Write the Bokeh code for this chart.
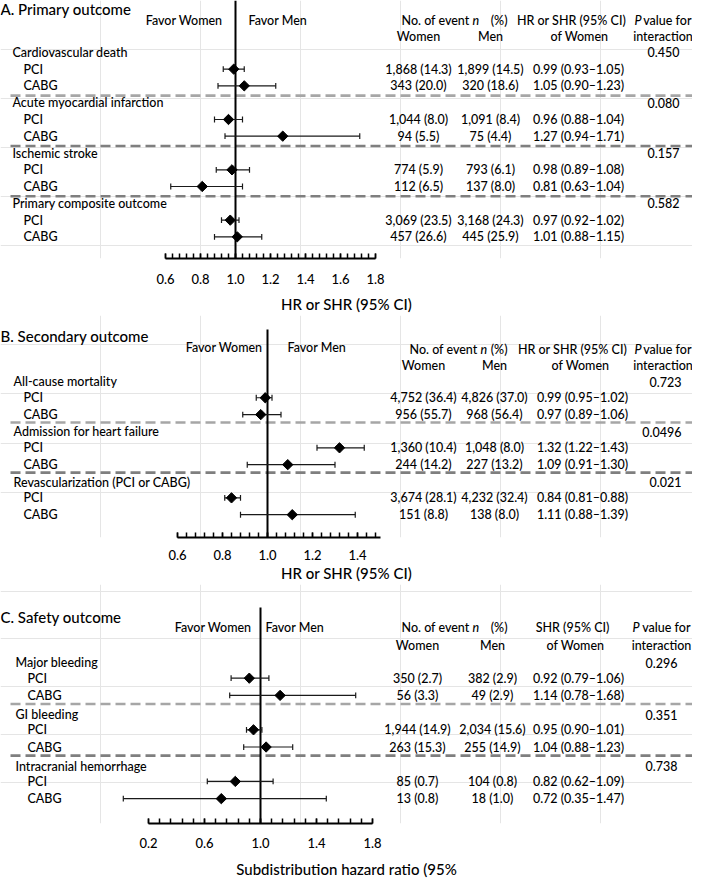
import numpy as np
from bokeh.plotting import figure
from bokeh.models import Range1d, LinearAxis, FixedTicker, PrintfTickFormatter
from bokeh.layouts import column
from bokeh.embed import file_html
from bokeh.resources import INLINE
from bokeh.core.properties import value

# ---------------- data ----------------
NULL_HR = 1.0
SUBGROUPS = ["PCI", "CABG"]

A_outcomes = ["Cardiovascular death", "Acute myocardial infarction", "Ischemic stroke", "Primary composite outcome"]
A_p = ["0.450", "0.080", "0.157", "0.582"]
A_hr = [0.99, 1.05, 0.96, 1.27, 0.98, 0.81, 0.97, 1.01]
A_lo = [0.93, 0.90, 0.88, 0.94, 0.89, 0.63, 0.92, 0.88]
A_hi = [1.05, 1.23, 1.04, 1.71, 1.08, 1.04, 1.02, 1.15]
A_women = ["1,868 (14.3)", "343 (20.0)", "1,044 (8.0)", "94 (5.5)", "774 (5.9)", "112 (6.5)", "3,069 (23.5)", "457 (26.6)"]
A_men = ["1,899 (14.5)", "320 (18.6)", "1,091 (8.4)", "75 (4.4)", "793 (6.1)", "137 (8.0)", "3,168 (24.3)", "445 (25.9)"]
A_ticks = [0.6, 0.8, 1.0, 1.2, 1.4, 1.6, 1.8]

B_outcomes = ["All-cause mortality", "Admission for heart failure", "Revascularization (PCI or CABG)"]
B_p = ["0.723", "0.0496", "0.021"]
B_hr = [0.99, 0.97, 1.32, 1.09, 0.84, 1.11]
B_lo = [0.95, 0.89, 1.22, 0.91, 0.81, 0.88]
B_hi = [1.02, 1.06, 1.43, 1.30, 0.88, 1.39]
B_women = ["4,752 (36.4)", "956 (55.7)", "1,360 (10.4)", "244 (14.2)", "3,674 (28.1)", "151 (8.8)"]
B_men = ["4,826 (37.0)", "968 (56.4)", "1,048 (8.0)", "227 (13.2)", "4,232 (32.4)", "138 (8.0)"]
B_ticks = [0.6, 0.8, 1.0, 1.2, 1.4]

C_outcomes = ["Major bleeding", "GI bleeding", "Intracranial hemorrhage"]
C_p = ["0.296", "0.351", "0.738"]
C_hr = [0.92, 1.14, 0.95, 1.04, 0.82, 0.72]
C_lo = [0.79, 0.78, 0.90, 0.88, 0.62, 0.35]
C_lo_drawn = [0.79, 0.78, 0.90, 0.88, 0.62, 0.02]   # lower whisker end as drawn in the picture
C_hi = [1.06, 1.68, 1.01, 1.23, 1.09, 1.47]
C_women = ["350 (2.7)", "56 (3.3)", "1,944 (14.9)", "263 (15.3)", "85 (0.7)", "13 (0.8)"]
C_men = ["382 (2.9)", "49 (2.9)", "2,034 (15.6)", "255 (14.9)", "104 (0.8)", "18 (1.0)"]
C_ticks = [0.2, 0.6, 1.0, 1.4, 1.8]

# ---------------- layout / style ----------------
FONT = "Lato Medium, Lato"
PAGE_W = 692
BODY = "12.5px"
BIG = "15px"


def ci_text(h, l, u):
    return [f"{a:.2f} ({b:.2f}\u2013{c:.2f})" for a, b, c in zip(h, l, u)]


def txt(p, xs, ys, ts, align="left", size=BODY, style="normal"):
    p.text(x=xs, y=ys, text=ts, text_align=align, text_baseline="middle",
           text_font=value(FONT), text_font_size=size, text_font_style=style,
           text_color="black")


def panel(cfg, outcomes, pvals, hr, lo, hi, lo_draw, women, men):
    top, axis_y = cfg["frame"]
    p = figure(width=PAGE_W, height=cfg["height"], x_range=Range1d(0, PAGE_W),
               y_range=Range1d(axis_y, top), output_backend="svg", toolbar_location=None,
               x_axis_location=None, y_axis_location=None,
               min_border_left=0, min_border_right=0, min_border_top=0,
               min_border_bottom=cfg["border"])
    p.outline_line_color = None
    p.background_fill_color = "white"
    nx, ppu = cfg["null_px"], cfg["ppu"]
    p.extra_x_ranges = {"hr": Range1d(NULL_HR - nx / ppu, NULL_HR + (PAGE_W - nx) / ppu)}

    # rows
    n = len(outcomes)
    gy = [cfg["y0"] + i * cfg["step"] for i in range(n)]
    ry, labels = [], []
    for g in gy:
        ry += [g + cfg["r1"], g + cfg["r2"]]
        labels += SUBGROUPS
    dy = [g + cfg["dash"] for g in gy[:-1]]
    dcol = ["#a6a6a6"] + ["#7f7f7f"] * (len(dy) - 1)

    # dashed separators
    p.segment(x0=[10] * len(dy), x1=[PAGE_W] * len(dy), y0=dy, y1=dy,
              line_color=dcol, line_width=2.6, line_dash="10 5")

    # null line
    p.segment(x0=[NULL_HR], x1=[NULL_HR], y0=[cfg["vtop"]], y1=[axis_y],
              x_range_name="hr", line_color="black", line_width=2)

    # confidence intervals
    cap = 3
    p.segment(x0=lo_draw, x1=hi, y0=ry, y1=ry, x_range_name="hr",
              line_color="#1a1a1a", line_width=1.2)
    p.segment(x0=lo_draw, x1=lo_draw, y0=[y - cap for y in ry], y1=[y + cap for y in ry],
              x_range_name="hr", line_color="#1a1a1a", line_width=1.2)
    p.segment(x0=hi, x1=hi, y0=[y - cap for y in ry], y1=[y + cap for y in ry],
              x_range_name="hr", line_color="#1a1a1a", line_width=1.2)
    p.scatter(x=hr, y=ry, x_range_name="hr", marker="square", angle=np.pi / 4,
              size=7.3, fill_color="black", line_color="black")

    # texts
    txt(p, [0], [cfg["title_y"]], [cfg["title"]], size=BIG)
    txt(p, [cfg["fw_right"]], [cfg["favor_y"]], ["Favor Women"], align="right")
    txt(p, [cfg["fm_left"]], [cfg["favor_y"]], ["Favor Men"])
    h1, h2 = cfg["h1"], cfg["h2"]
    txt(p, [cfg["noev_right"]], [h1], ["No. of event"], align="right")
    txt(p, [cfg["n_x"]], [h1], ["n"], style="italic")
    txt(p, [cfg["pct_right"]], [h1], ["(%)"], align="right")
    txt(p, [cfg["xw"]], [h2], ["Women"], align="center")
    txt(p, [cfg["xm"]], [h2], ["Men"], align="center")
    txt(p, [cfg["hr_hdr_x"]], [h1], [cfg["hr_hdr"]], align="center")
    txt(p, [cfg["ofw_x"]], [h2], ["of Women"], align="center")
    txt(p, [cfg["P_x"]], [h1], ["P"], style="italic")
    txt(p, [cfg["vf_right"]], [h1], ["value for"], align="right")
    txt(p, [(cfg["P_x"] + cfg["vf_right"]) / 2], [h2], ["interaction"], align="center")

    txt(p, [cfg["name_x"]] * n, gy, outcomes)
    txt(p, [cfg["xp"]] * n, gy, pvals, align="right")
    txt(p, [cfg["sub_x"]] * len(ry), ry, labels)
    txt(p, [cfg["xw"]] * len(ry), ry, women, align="center")
    txt(p, [cfg["xm"]] * len(ry), ry, men, align="center")
    txt(p, [cfg["xci"]] * len(ry), ry, ci_text(hr, lo, hi), align="center")

    # axis
    lo_b, hi_b = cfg["bounds"]
    minor = list(np.round(np.arange(lo_b, hi_b + 1e-9, cfg["minor"]), 4))
    ax = LinearAxis(x_range_name="hr", bounds=(lo_b, hi_b),
                    ticker=FixedTicker(ticks=cfg["ticks"], minor_ticks=minor),
                    formatter=PrintfTickFormatter(format="%.1f"),
                    axis_label=cfg["label"])
    ax.axis_line_width = 2
    ax.axis_line_color = "black"
    ax.major_tick_in = 5
    ax.major_tick_out = 0
    ax.minor_tick_in = 5
    ax.minor_tick_out = 0
    ax.major_tick_line_width = 1.5
    ax.minor_tick_line_width = 1.5
    ax.major_tick_line_color = "black"
    ax.minor_tick_line_color = "black"
    ax.major_label_standoff = cfg["tick_standoff"]
    ax.major_label_text_font = FONT
    ax.major_label_text_font_size = "13px"
    ax.major_label_text_color = "black"
    ax.axis_label_standoff = cfg["label_standoff"]
    ax.axis_label_text_font = FONT
    ax.axis_label_text_font_size = BIG
    ax.axis_label_text_font_style = "normal"
    ax.axis_label_text_color = "black"
    p.add_layout(ax, "below")
    return p


cfgA = dict(title="A. Primary outcome", title_y=9, frame=(0, 263), height=315, border=52,
            null_px=235, ppu=175, bounds=(0.6, 1.8), ticks=A_ticks, minor=0.04,
            vtop=0, favor_y=20, fw_right=222, fm_left=248, h1=20, h2=37,
            name_x=12, sub_x=23, y0=53, step=51.3, r1=17, r2=34, dash=44,
            xw=418, xm=490, xci=578, xp=679,
            noev_right=469, n_x=472, pct_right=507, hr_hdr="HR or SHR (95% CI)",
            hr_hdr_x=571, ofw_x=579, P_x=634, vf_right=691,
            label="HR or SHR (95% CI)", tick_standoff=15, label_standoff=8)

cfgB = dict(title="B. Secondary outcome", title_y=342, frame=(321, 545), height=269, border=45,
            null_px=267, ppu=225, bounds=(0.6, 1.5), ticks=B_ticks, minor=0.04,
            vtop=335, favor_y=353, fw_right=262, fm_left=287, h1=355, h2=371,
            name_x=13, sub_x=23, y0=388, step=50.5, r1=16, r2=33, dash=41,
            xw=423, xm=494, xci=582, xp=681,
            noev_right=477, n_x=480, pct_right=507, hr_hdr="HR or SHR (95% CI)",
            hr_hdr_x=572, ofw_x=580, P_x=634, vf_right=691,
            label="HR or SHR (95% CI)", tick_standoff=12, label_standoff=1)

cfgC = dict(title="C. Safety outcome", title_y=627, frame=(593, 843), height=296, border=53,
            null_px=260, ppu=140, bounds=(0.2, 1.8), ticks=C_ticks, minor=0.08,
            vtop=617, favor_y=638, fw_right=251, fm_left=265, h1=638, h2=657,
            name_x=15, sub_x=27, y0=675, step=54, r1=16, r2=34, dash=43,
            xw=417, xm=492, xci=578, xp=677,
            noev_right=469, n_x=472, pct_right=507, hr_hdr="SHR (95% CI)",
            hr_hdr_x=572, ofw_x=575, P_x=632, vf_right=690,
            label="Subdistribution hazard ratio (95%", tick_standoff=14, label_standoff=9)

pA = panel(cfgA, A_outcomes, A_p, A_hr, A_lo, A_hi, A_lo, A_women, A_men)
pB = panel(cfgB, B_outcomes, B_p, B_hr, B_lo, B_hi, B_lo, B_women, B_men)
pC = panel(cfgC, C_outcomes, C_p, C_hr, C_lo, C_hi, C_lo_drawn, C_women, C_men)

layout = column(pA, pB, pC, spacing=0)
open("out.html", "w").write(file_html(layout, INLINE))
